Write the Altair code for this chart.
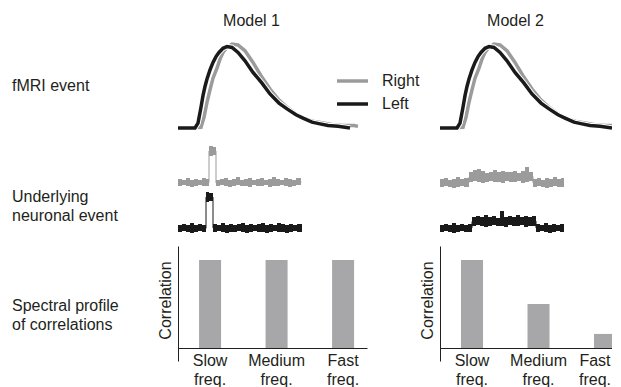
import altair as alt
import pandas as pd

# ---------------- data ----------------
model_titles = ["Model 1", "Model 2"]
row_labels = ["fMRI event", "Underlying\nneuronal event", "Spectral profile\nof correlations"]
sides = ["Right", "Left"]

# fMRI event (haemodynamic response), time and amplitude in arbitrary units
hrf_left_t = [0, 17, 20, 23, 25, 27, 29, 32, 35, 38, 41, 45, 49, 54, 60, 67, 75, 84, 92, 101,
              109, 118, 125, 134, 142, 150, 160, 172]
hrf_left_a = [0, 0, 0.06, 0.25, 0.39, 0.50, 0.59, 0.70, 0.79, 0.86, 0.91, 0.96, 0.98, 0.97, 0.91,
              0.81, 0.67, 0.54, 0.41, 0.30, 0.23, 0.16, 0.12, 0.07, 0.05, 0.03, 0.02, 0.0]
hrf_right_t = [3, 23, 26, 29, 32, 35, 39, 42, 45, 49, 54, 60, 67, 75, 83, 92, 100, 109, 118, 127,
               136, 145, 155, 166, 176, 180]
hrf_right_a = [0, 0.01, 0.13, 0.31, 0.46, 0.60, 0.72, 0.83, 0.91, 0.97, 1.01, 1.0, 0.93, 0.79, 0.63,
               0.47, 0.35, 0.25, 0.17, 0.11, 0.08, 0.06, 0.04, 0.03, 0.03, 0.02]

# underlying neuronal events: time, lower and upper envelope of the noisy trace (a.u.)
m1_right_x = [0, 4, 8, 12, 16, 20, 24, 28, 31, 35, 38, 42, 46, 50, 54, 58, 62, 66, 70, 74,
              78, 82, 86, 90, 94, 98, 102, 106, 110, 114, 118, 123]
m1_right_lo = [50, 51, 50, 49, 50, 51, 50, 50, 80, 81, 50, 51, 50, 49, 50, 51, 50, 50, 49, 51,
               50, 50, 51, 49, 50, 50, 51, 50, 49, 50, 51, 50]
m1_right_hi = [57, 56, 58, 56, 57, 56, 58, 57, 90, 89, 56, 57, 58, 56, 57, 59, 56, 57, 58, 56,
               57, 58, 56, 57, 59, 57, 56, 58, 57, 56, 58, 57]

m1_left_x = [0, 4, 8, 12, 16, 20, 24, 28, 31, 35, 39, 43, 47, 51, 55, 59, 63, 67, 71, 75,
             79, 83, 87, 91, 95, 99, 103, 107, 111, 115, 119, 124]
m1_left_lo = [4, 5, 4, 3, 4, 5, 4, 34, 35, 4, 5, 4, 3, 4, 4, 5, 4, 3, 4, 5,
              4, 4, 3, 4, 5, 4, 4, 3, 4, 5, 4, 4]
m1_left_hi = [11, 12, 11, 13, 11, 12, 11, 44, 43, 12, 11, 13, 11, 12, 11, 12, 13, 11, 12, 11,
              12, 13, 11, 12, 11, 13, 12, 11, 12, 11, 12, 12]

m2_right_x = [0, 4, 8, 12, 16, 20, 24, 29, 33, 37, 41, 45, 49, 53, 57, 61, 65, 69, 73, 77,
              81, 85, 89, 93, 97, 101, 105, 109, 113, 117, 121, 124]
m2_right_lo = [49, 50, 49, 48, 49, 50, 49, 54, 55, 54, 53, 54, 55, 54, 54, 53, 55, 54, 54, 55,
               53, 54, 55, 49, 50, 49, 48, 49, 50, 49, 49, 49]
m2_right_hi = [57, 58, 56, 57, 59, 57, 58, 64, 66, 67, 65, 63, 64, 66, 64, 65, 64, 64, 65, 63,
               65, 69, 64, 57, 58, 56, 58, 57, 59, 57, 58, 58]

m2_left_x = [0, 4, 8, 12, 16, 20, 24, 28, 32, 36, 40, 44, 48, 52, 56, 60, 64, 68, 72, 76,
             80, 84, 88, 92, 96, 100, 104, 108, 112, 116, 120, 124]
m2_left_lo = [4, 5, 4, 3, 4, 5, 4, 4, 10, 11, 10, 9, 10, 11, 10, 10, 9, 11, 10, 10,
              11, 9, 10, 10, 4, 5, 4, 3, 4, 5, 4, 4]
m2_left_hi = [11, 12, 11, 13, 11, 12, 11, 12, 19, 20, 19, 21, 19, 20, 18, 25, 19, 20, 19, 21,
              19, 20, 19, 20, 12, 11, 13, 11, 12, 11, 12, 12]

# spectral profile of correlations
freq = ["Slow freq.", "Medium freq.", "Fast freq."]
corr_m1 = [1.0, 1.0, 1.0]
corr_m2 = [1.0, 0.50, 0.16]

# ---------------- styles ----------------
TEXT = "#231f20"
GRAY = "#9b9b9b"
BLACK = "#1a1a1a"
BAR = "#a7a7a9"
FONT = "Liberation Sans"
FS = 16

# ---------------- tables ----------------
fmri_df = pd.concat([
    pd.DataFrame({"t": hrf_right_t, "a": hrf_right_a, "side": "Right"}),
    pd.DataFrame({"t": hrf_left_t, "a": hrf_left_a, "side": "Left"}),
], ignore_index=True)


def trace_df(rx, rlo, rhi, lx, llo, lhi):
    d = pd.concat([
        pd.DataFrame({"x": rx, "lo": rlo, "hi": rhi, "side": "Right"}),
        pd.DataFrame({"x": lx, "lo": llo, "hi": lhi, "side": "Left"}),
    ], ignore_index=True)
    d["mid"] = (d["lo"] + d["hi"]) / 2
    return d


neur_m1 = trace_df(m1_right_x, m1_right_lo, m1_right_hi, m1_left_x, m1_left_lo, m1_left_hi)
neur_m2 = trace_df(m2_right_x, m2_right_lo, m2_right_hi, m2_left_x, m2_left_lo, m2_left_hi)
bars_m1 = pd.DataFrame({"freq": freq, "corr": corr_m1})
bars_m2 = pd.DataFrame({"freq": freq, "corr": corr_m2})

side_scale = alt.Scale(domain=sides, range=[GRAY, BLACK])
color_enc = alt.Color(
    "side:N", scale=side_scale,
    legend=alt.Legend(
        title=None, orient="none", legendX=323, legendY=33.5,
        symbolType="stroke", symbolSize=961, symbolStrokeWidth=3.5,
        clipHeight=21, rowPadding=2, labelOffset=12, padding=0,
        labelFontSize=FS, labelColor=TEXT, labelFont=FONT,
    ),
)
fill_enc = alt.Fill("side:N", scale=side_scale, legend=None)

W1, W2, W3 = 93, 189, 181
H1, H2, H3 = 94, 95, 115


def fmri_panel(width, title, dx):
    base = alt.Chart(fmri_df).encode(
        x=alt.X("t:Q", scale=alt.Scale(domain=[0, width], nice=False, zero=False), axis=None),
        y=alt.Y("a:Q", scale=alt.Scale(domain=[-0.036, 1.096], nice=False, zero=False), axis=None),
    )
    right = base.transform_filter(alt.datum.side == "Right").mark_line(strokeWidth=3.5).encode(color=color_enc)
    halo = base.transform_filter(alt.datum.side == "Left").mark_line(strokeWidth=5.5, color="white")
    left = base.transform_filter(alt.datum.side == "Left").mark_line(strokeWidth=3.5).encode(color=color_enc)
    return alt.layer(right, halo, left).properties(
        width=width, height=H1,
        title=alt.Title(title, fontSize=FS, fontWeight="normal", color=TEXT, font=FONT,
                        anchor="middle", dx=dx, offset=-6, baseline="alphabetic"),
    )


def neur_panel(df, width):
    base = alt.Chart(df).encode(
        x=alt.X("x:Q", scale=alt.Scale(domain=[0, width], nice=False, zero=False), axis=None),
    )
    band = base.mark_area(interpolate="step-after").encode(
        y=alt.Y("hi:Q", scale=alt.Scale(domain=[0, H2], nice=False, zero=False), axis=None),
        y2="lo:Q",
        fill=fill_enc,
    )
    line = base.mark_line(interpolate="step-after", strokeWidth=1).encode(
        y=alt.Y("mid:Q", scale=alt.Scale(domain=[0, H2], nice=False, zero=False), axis=None),
        color=color_enc,
    )
    return alt.layer(band, line).properties(width=width, height=H2)


def bar_panel(df, width, pad_inner, pad_outer, align, last_shift):
    return alt.Chart(df).mark_bar(color=BAR).encode(
        x=alt.X("freq:N", sort=freq,
                scale=alt.Scale(paddingInner=pad_inner, paddingOuter=pad_outer, align=align),
                axis=alt.Axis(title=None, orient="bottom", offset=-13, ticks=False, labelAngle=0,
                              labelExpr="split(datum.label, ' ')", labelFontSize=FS,
                              labelLineHeight=19, labelPadding=4, labelColor=TEXT,
                              labelOffset={"condition": {"test": "datum.value === 'Fast freq.'",
                                                         "value": last_shift}, "value": 0},
                              labelOverlap=False, domainColor=TEXT, domainWidth=1)),
        y=alt.Y("corr:Q", scale=alt.Scale(domain=[-0.1477, 1.1591], nice=False, zero=False),
                axis=alt.Axis(title="Correlation", ticks=False, labels=False, grid=False,
                              domainColor=TEXT, domainWidth=1, titleFontSize=FS,
                              titleFontWeight="normal", titleColor=TEXT, titlePadding=5,
                              titleY=54)),
        y2=alt.datum(0),
    ).properties(width=width, height=H3)


def label_panel(text, height, y):
    return alt.Chart(pd.DataFrame({"label": [text]})).mark_text(
        align="left", baseline="alphabetic", fontSize=FS, lineBreak="\n", lineHeight=19,
        color=TEXT, font=FONT,
    ).encode(text="label:N", x=alt.value(0), y=alt.value(y)).properties(width=W1, height=height)


panels = [
    label_panel(row_labels[0], H1, 53.7),
    fmri_panel(185, model_titles[0], -19),
    fmri_panel(W3, model_titles[1], -15),
    label_panel(row_labels[1], H2, 60.7),
    neur_panel(neur_m1, 185),
    neur_panel(neur_m2, W3),
    label_panel(row_labels[2], H3, 65),
    bar_panel(bars_m1, W2, 0.669, 0.2556, 0.62, 0),
    bar_panel(bars_m2, W3, 0.669, 0.1955, 0.808, -10),
]

chart = alt.concat(
    *panels, columns=3, bounds="flush", align="each",
    spacing=alt.RowColnumber(row=10, column=73),
).properties(
    padding={"top": 4, "left": 4, "right": -15, "bottom": 0},
).configure(font=FONT).configure_view(strokeWidth=0).configure_axis(grid=False)

chart.save("out.html", embed_options={"renderer": "svg", "actions": False})
